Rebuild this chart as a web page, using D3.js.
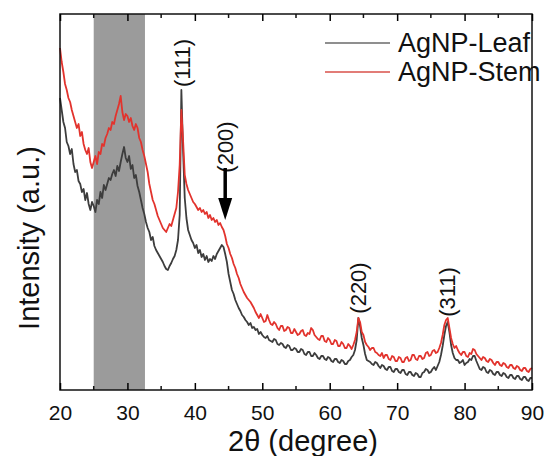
<!DOCTYPE html>
<html>
<head>
<meta charset="utf-8">
<script src="https://cdn.jsdelivr.net/npm/d3@7"></script>
<style>
  body { margin: 0; background: #fff; }
  text { font-family: "Liberation Sans", Arial, sans-serif; fill: #111; }
</style>
</head>
<body>
<div id="chart"></div>
<script>
// 2-theta sampling: 20 to 90 degrees, every 0.25 degree
const thetaStart = 20, thetaStep = 0.25;

// Intensity (a.u.), one row = 5 degrees
const leaf = [
  292, 280, 268, 262, 248, 244, 236, 241, 226, 218, 220, 209, 206, 198, 201, 190, 197, 186, 180, 188,
  184, 178, 190, 186, 198, 192, 205, 200, 206, 212, 210, 216, 220, 214, 224, 219, 228, 236, 243, 232,
  228, 234, 221, 225, 212, 215, 204, 198, 190, 182, 176, 168, 162, 158, 150, 153, 144, 140, 137, 134,
  131, 128, 124, 121, 120, 124, 127, 131, 134, 140, 150, 175, 300, 240, 192, 172, 160, 155, 150, 147,
  142, 145, 137, 140, 133, 136, 130, 134, 128, 131, 129, 134, 131, 136, 139, 142, 145, 143, 136, 128,
  116, 108, 100, 96, 90, 86, 82, 79, 75, 73, 70, 68, 65, 67, 62, 63, 60, 61, 56, 58,
  55, 53, 52, 54, 50, 49, 48, 51, 50, 46, 45, 47, 46, 43, 42, 45, 44, 40, 40, 42,
  41, 38, 38, 41, 40, 36, 35, 38, 38, 34, 34, 37, 35, 32, 31, 34, 34, 31, 30, 33,
  32, 29, 28, 31, 31, 28, 27, 30, 29, 26, 26, 29, 30, 33, 35, 40, 50, 72, 64, 52,
  45, 36, 30, 29, 28, 26, 25, 28, 27, 24, 22, 25, 24, 21, 20, 23, 23, 19, 18, 21,
  21, 18, 17, 20, 20, 16, 15, 18, 18, 15, 14, 17, 16, 13, 13, 17, 18, 21, 20, 17,
  18, 21, 23, 20, 24, 28, 35, 44, 55, 64, 68, 58, 45, 37, 32, 30, 30, 27, 28, 30,
  25, 27, 28, 31, 30, 34, 34, 29, 25, 21, 20, 23, 22, 18, 17, 20, 19, 16, 15, 18,
  18, 15, 14, 17, 16, 13, 12, 15, 15, 12, 11, 14, 14, 11, 10, 13, 13, 10, 9, 12,
  12
];

const stem = [
  342, 328, 318, 306, 300, 292, 288, 280, 274, 268, 262, 266, 254, 258, 246, 240, 236, 242, 228, 222,
  228, 234, 226, 238, 236, 246, 244, 252, 256, 262, 260, 268, 266, 274, 280, 286, 294, 278, 270, 276,
  274, 268, 272, 264, 260, 266, 262, 252, 248, 240, 234, 226, 218, 206, 198, 190, 186, 180, 174, 170,
  166, 162, 160, 158, 162, 166, 164, 170, 176, 182, 198, 225, 280, 250, 215, 206, 200, 196, 192, 188,
  186, 183, 180, 182, 178, 180, 176, 178, 172, 175, 170, 172, 168, 170, 165, 167, 163, 160, 154, 146,
  142, 136, 132, 126, 122, 116, 112, 106, 102, 98, 95, 92, 90, 88, 85, 82, 78, 75, 72, 76,
  72, 68, 69, 75, 70, 66, 65, 68, 66, 62, 60, 64, 64, 59, 60, 63, 62, 57, 57, 61,
  58, 55, 56, 59, 60, 55, 54, 57, 56, 62, 60, 55, 53, 51, 50, 54, 54, 49, 48, 52,
  50, 46, 46, 50, 49, 44, 44, 48, 46, 42, 42, 46, 44, 41, 45, 50, 58, 72, 68, 58,
  55, 48, 45, 43, 40, 42, 42, 38, 37, 35, 34, 37, 32, 35, 35, 31, 30, 34, 33, 29,
  29, 33, 32, 28, 28, 32, 33, 29, 30, 35, 35, 31, 30, 34, 34, 31, 32, 37, 38, 34,
  35, 39, 40, 37, 38, 42, 47, 55, 65, 70, 72, 62, 52, 46, 42, 44, 40, 37, 35, 38,
  38, 34, 33, 37, 36, 41, 40, 36, 34, 32, 30, 33, 32, 29, 28, 31, 30, 27, 25, 28,
  28, 25, 24, 27, 26, 23, 22, 25, 25, 22, 21, 24, 23, 20, 19, 22, 22, 19, 18, 21,
  22
];

const seriesNames = ["AgNP-Leaf", "AgNP-Stem"];
const seriesColors = ["#3d3d3d", "#e2332d"];

const xTicks = [20, 30, 40, 50, 60, 70, 80, 90];
const shadedBand = [25, 32.6];

// peak labels: text, 2theta, intensity at label centre
const peakLabels = ["(111)", "(200)", "(220)", "(311)"];
const peakTheta = [38.2, 44.5, 64.2, 77.4];
const peakLabelY = [327, 243, 102, 98];

const margin = { top: 14, right: 15, bottom: 66, left: 60 };
const width = 547 - margin.left - margin.right;
const height = 456 - margin.top - margin.bottom;

const svg = d3.select("#chart").append("svg")
    .attr("width", 547)
    .attr("height", 456)
    .append("g")
    .attr("transform", `translate(${margin.left},${margin.top})`);

const x = d3.scaleLinear().domain([20, 90]).range([0, width]);
const y = d3.scaleLinear().domain([0, 376]).range([height, 0]);

// grey band
svg.append("rect")
    .attr("x", x(shadedBand[0]))
    .attr("y", 0)
    .attr("width", x(shadedBand[1]) - x(shadedBand[0]))
    .attr("height", height)
    .attr("fill", "#9b9b9b");

const line = d3.line()
    .x((d, i) => x(thetaStart + i * thetaStep))
    .y(d => y(d));

[leaf, stem].forEach((s, k) => {
    svg.append("path")
        .datum(s)
        .attr("fill", "none")
        .attr("stroke", seriesColors[k])
        .attr("stroke-width", 1.8)
        .attr("stroke-linejoin", "round")
        .attr("d", line);
});

// frame
svg.append("rect")
    .attr("width", width)
    .attr("height", height)
    .attr("fill", "none")
    .attr("stroke", "#111")
    .attr("stroke-width", 1.5);

// bottom axis with inward ticks
const minorTicks = d3.range(25, 90, 10);
const bottomAxis = svg.append("g").attr("transform", `translate(0,${height})`);
bottomAxis.call(d3.axisBottom(x).tickValues(xTicks).tickSizeInner(-7).tickSizeOuter(0).tickPadding(15))
    .call(g => g.select(".domain").remove());
bottomAxis.selectAll("text").style("font-size", "21px").attr("font-family", "Liberation Sans, Arial, sans-serif");
bottomAxis.selectAll("line").attr("stroke-width", 1.5);
bottomAxis.selectAll(".minor").data(minorTicks).enter().append("line")
    .attr("x1", d => x(d)).attr("x2", d => x(d))
    .attr("y1", 0).attr("y2", -4)
    .attr("stroke", "#111").attr("stroke-width", 1.5);

// top ticks
const topAxis = svg.append("g");
topAxis.call(d3.axisTop(x).tickValues(xTicks).tickSizeInner(-7).tickSizeOuter(0).tickFormat(""))
    .call(g => g.select(".domain").remove());
topAxis.selectAll("line").attr("stroke-width", 1.5);
topAxis.selectAll(".minor").data(minorTicks).enter().append("line")
    .attr("x1", d => x(d)).attr("x2", d => x(d))
    .attr("y1", 0).attr("y2", 4)
    .attr("stroke", "#111").attr("stroke-width", 1.5);

// axis titles
svg.append("text")
    .attr("x", width / 2 + 7)
    .attr("y", height + 61)
    .attr("text-anchor", "middle")
    .style("font-size", "29px")
    .text("2θ (degree)");

svg.append("text")
    .attr("transform", "rotate(-90)")
    .attr("x", -(238 - margin.top))
    .attr("y", -31)
    .attr("text-anchor", "middle")
    .attr("dominant-baseline", "central")
    .style("font-size", "29px")
    .text("Intensity (a.u.)");

// peak labels
peakLabels.forEach((p, i) => {
    svg.append("text")
        .attr("transform", `translate(${x(peakTheta[i])},${y(peakLabelY[i])}) rotate(-90)`)
        .attr("text-anchor", "middle")
        .attr("dominant-baseline", "central")
        .style("font-size", "22px")
        .style("font-family", "'Liberation Sans Narrow', 'Liberation Sans', Arial, sans-serif")
        .text(p);
});

// arrow for (200)
const ax = x(44.5);
svg.append("line")
    .attr("x1", ax).attr("x2", ax)
    .attr("y1", y(222)).attr("y2", y(186))
    .attr("stroke", "#000").attr("stroke-width", 3.5);
svg.append("path")
    .attr("d", `M${ax - 7},${y(192)} L${ax + 7},${y(192)} L${ax},${y(170)} Z`)
    .attr("fill", "#000");

// legend
const legend = svg.append("g").attr("transform", `translate(${325 - margin.left},${43 - margin.top})`);
seriesNames.forEach((name, i) => {
    legend.append("line")
        .attr("x1", 0).attr("x2", 65)
        .attr("y1", i * 29).attr("y2", i * 29)
        .attr("stroke", i === 0 ? "#6a6a6a" : "#d9504a")
        .attr("stroke-width", 1.5);
    legend.append("text")
        .attr("x", 73)
        .attr("y", i * 29)
        .attr("dominant-baseline", "central")
        .style("font-size", "27px")
        .style("font-family", "'Liberation Sans Narrow', 'Liberation Sans', Arial, sans-serif")
        .text(name);
});
</script>
</body>
</html>
